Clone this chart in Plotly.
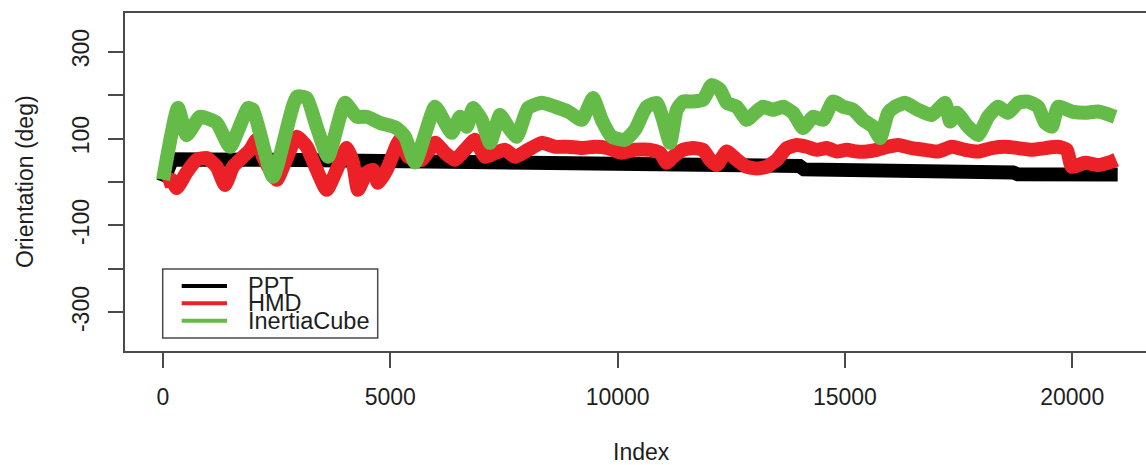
import plotly.graph_objects as go

# ---- data ----
series_names = ["PPT", "HMD", "InertiaCube"]
series_colors = ["#000000", "#EC2027", "#64BB47"]

ppt_idx = [0, 200, 2500, 5000, 7500, 9400, 9600, 12000, 14000, 14100, 17300, 17400, 18700, 18800, 21000]
ppt_val = [0, 52, 51, 48, 47, 46, 39, 38, 37, 29, 28, 23, 22, 18, 17]

hmd_idx = [0, 191, 301, 506, 741, 961, 1181, 1364, 1540, 1760, 1914, 2061, 2200, 2354, 2501,
           2706, 2941, 3161, 3381, 3601, 3821, 4041, 4180, 4290, 4481, 4620, 4730, 4921, 5141,
           5214, 5390, 5691, 5984, 6204, 6424, 6644, 6864, 7084, 7304, 7524, 7744, 8030, 8331,
           8624, 8910, 9211, 9504, 9790, 10091, 10384, 10714, 10934, 11081, 11220, 11440, 11660,
           11880, 12034, 12181, 12401, 12621, 12841, 13061, 13281, 13501, 13721, 13941, 14161,
           14381, 14601, 14821, 15041, 15261, 15481, 15701, 15950, 16170, 16471, 16764, 17050,
           17351, 17644, 17930, 18231, 18524, 18810, 19111, 19404, 19690, 19881, 19991, 20284,
           20570, 20871, 20966]
hmd_val = [0, 5, -14, 20, 51, 55, 35, -7, 35, 58, 74, 97, 58, 28, 5,
           51, 104, 81, 28, -18, 28, 78, 44, -18, 21, 28, -2, 28, 85,
           97, 58, 51, 90, 67, 51, 74, 97, 58, 67, 74, 58, 74, 90,
           81, 81, 78, 81, 78, 67, 74, 74, 67, 44, 58, 74, 78,
           74, 51, 39, 70, 51, 35, 31, 35, 51, 78, 85, 81,
           74, 78, 70, 74, 70, 70, 74, 81, 85, 78, 74, 70,
           81, 74, 70, 78, 81, 78, 74, 78, 81, 74, 35, 44,
           39, 47, 51]

ic_idx = [0, 330, 521, 814, 1181, 1474, 1870, 1980, 2420, 2941, 3161, 3381, 3630, 4004, 4261,
          4481, 4774, 5141, 5324, 5544, 5984, 6204, 6351, 6534, 6681, 6820, 7011, 7194, 7414,
          7590, 7781, 8030, 8331, 8624, 8910, 9211, 9460, 9651, 9871, 10164, 10384, 10560,
          10641, 10861, 11000, 11154, 11301, 11440, 11660, 11880, 12071, 12254, 12401, 12621,
          12841, 13024, 13200, 13420, 13640, 13860, 14080, 14300, 14520, 14740, 14960, 15180,
          15400, 15620, 15774, 15950, 16104, 16324, 16610, 16911, 17204, 17314, 17461, 17710,
          17930, 18150, 18370, 18590, 18810, 19030, 19250, 19404, 19551, 19690, 19991, 20284,
          20570, 20944]
ic_val = [5, 170, 108, 150, 136, 81, 170, 166, 12, 196, 193, 127, 58, 182, 150,
          150, 136, 124, 104, 45, 173, 136, 113, 150, 127, 170, 143, 90, 154,
          127, 104, 170, 182, 173, 162, 143, 193, 143, 104, 97, 120, 159,
          173, 182, 143, 90, 166, 185, 185, 189, 223, 212, 182, 173,
          143, 159, 173, 166, 173, 159, 124, 150, 143, 185, 173, 166,
          143, 127, 101, 159, 173, 182, 166, 154, 182, 139, 159, 127,
          108, 150, 173, 159, 182, 185, 173, 136, 127, 173, 162, 159,
          162, 150]

x_ticks = [0, 5000, 10000, 15000, 20000]
y_ticks = [-300, -200, -100, 0, 100, 200, 300]
y_tick_text = ["-300", "", "-100", "", "100", "", "300"]

# ---- geometry (pixels) ----
W, H = 1146, 465
ML, MR, MT, MB = 125, 0, 13, 114
PW, PH = W - ML - MR, H - MT - MB

def px(x):
    return (x - ML) / PW

def py(y):
    return (H - MB - y) / PH

FONT = "Liberation Sans, Arial, sans-serif"
AX = "#4a4a4a"
TXT = "#1e1e1e"
FS = 23

fig = go.Figure()
for xs, ys, col, nm in zip([ppt_idx, hmd_idx, ic_idx], [ppt_val, hmd_val, ic_val],
                           series_colors, series_names):
    shape = "linear" if nm == "PPT" else "spline"
    fig.add_trace(go.Scatter(x=xs, y=ys, mode="lines", name=nm,
                             line=dict(color=col, width=14, shape=shape, smoothing=0.5),
                             showlegend=False, hoverinfo="skip"))

fig.update_layout(
    width=W, height=H,
    margin=dict(l=ML, r=MR, t=MT, b=MB),
    paper_bgcolor="white", plot_bgcolor="white",
    font=dict(family=FONT, size=FS, color=TXT),
    showlegend=False,
    xaxis=dict(range=[-836, 21623], tickvals=x_ticks, ticktext=[str(v) for v in x_ticks],
               ticks="outside", ticklen=15, tickwidth=1.5, tickcolor=AX,
               showline=True, linecolor=AX, linewidth=1.5, mirror=True,
               showgrid=False, zeroline=False, tickfont=dict(size=FS, color=TXT),
               ticklabelstandoff=10),
    yaxis=dict(range=[-388.6, 388.6], tickvals=y_ticks, ticktext=y_tick_text,
               tickangle=-90, ticks="outside", ticklen=15, tickwidth=1.5, tickcolor=AX,
               showline=True, linecolor=AX, linewidth=1.5, mirror=False,
               showgrid=False, zeroline=False, tickfont=dict(size=FS, color=TXT),
               ticklabelstandoff=10),
)

anns = [
    dict(text="Index", x=px(641), y=py(452), xref="paper", yref="paper",
         xanchor="center", yanchor="middle", showarrow=False, font=dict(size=FS, color=TXT)),
    dict(text="Orientation (deg)", x=px(25), y=py(182), xref="paper", yref="paper",
         xanchor="center", yanchor="middle", textangle=-90, showarrow=False,
         font=dict(size=FS, color=TXT)),
]
shapes = [
    dict(type="rect", xref="paper", yref="paper", x0=px(162.7), x1=px(377.7),
         y0=py(338), y1=py(269), line=dict(color=AX, width=1.5), fillcolor="white"),
]
leg_y = [286, 303.3, 320.7]
for nm, col, ly in zip(series_names, series_colors, leg_y):
    shapes.append(dict(type="line", xref="paper", yref="paper", x0=px(181.7), x1=px(227),
                       y0=py(ly), y1=py(ly), line=dict(color=col, width=4)))
    anns.append(dict(text=nm, x=px(246), y=py(ly), xref="paper", yref="paper",
                     xanchor="left", yanchor="middle", showarrow=False,
                     font=dict(size=FS + 0.5, color=TXT)))
fig.update_layout(annotations=anns, shapes=shapes)

fig.write_html("out.html", config={"displayModeBar": False},
               post_script="document.body.style.margin='0';document.body.style.overflow='hidden';")
